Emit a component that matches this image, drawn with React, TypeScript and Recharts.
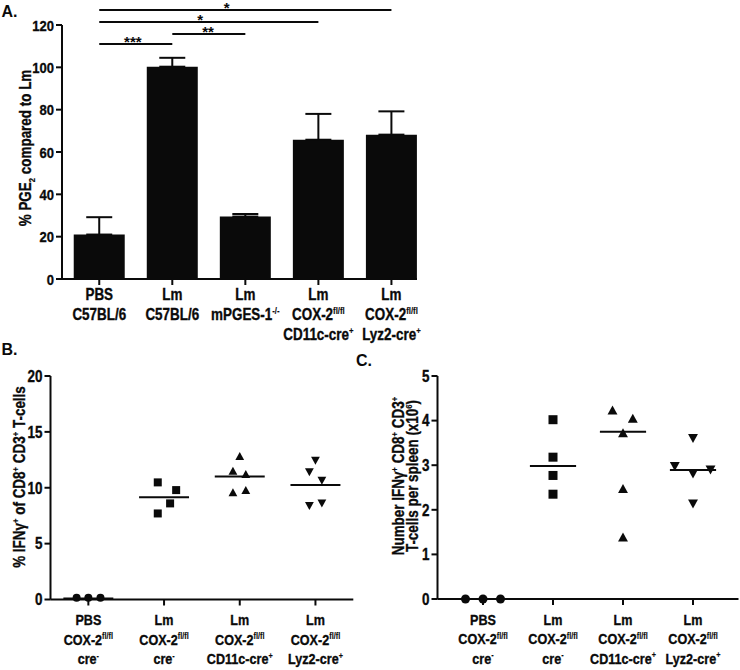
import React from 'react';
import { BarChart, Bar, ErrorBar, ScatterChart, Scatter, XAxis, YAxis, ReferenceLine } from 'recharts';

const FONT = "'Liberation Sans', Arial, sans-serif";
const SX = 0.84; // horizontal squeeze, mimics a condensed bold face
const INK = '#0a0a0a';

// ---- panel A: PGE2 ----
const pgeGroups = [
  'PBS\nC57BL/6',
  'Lm\nC57BL/6',
  'Lm\nmPGES-1^{-/-}',
  'Lm\nCOX-2^{fl/fl}\nCD11c-cre^{+}',
  'Lm\nCOX-2^{fl/fl}\nLyz2-cre^{+}',
];
const pgeMean = [21, 100.3, 29.5, 65.8, 68.2];
const pgeErr = [8.2, 4.2, 1.2, 12.2, 11];
const pgeTicks = [0, 20, 40, 60, 80, 100, 120];

// significance bars (group index from -> to, height, stars)
const sigFrom = [0, 1, 0, 0];
const sigTo = [1, 2, 3, 4];
const sigAt = [111, 115.7, 121.4, 127.1];
const sigStars = ['***', '**', '*', '*'];
const sigStarPos = [0.46, 0.49, 0.46, 0.436];

// ---- panels B / C ----
const cellGroups = [
  'PBS\nCOX-2^{fl/fl}\ncre^{-}',
  'Lm\nCOX-2^{fl/fl}\ncre^{-}',
  'Lm\nCOX-2^{fl/fl}\nCD11c-cre^{+}',
  'Lm\nCOX-2^{fl/fl}\nLyz2-cre^{+}',
];
const markers = ['circle', 'square', 'up', 'down'];

// B: % IFNg+ of CD8+ CD3+ (x jitter within group, value)
const pctJitter = [
  [-0.155, 0, 0.16],
  [-0.083, 0.16, 0.08, -0.083],
  [0, -0.09, 0.08, -0.09, 0.08],
  [0, -0.08, 0.085, -0.08, 0.085],
];
const pctValues = [
  [0.15, 0.15, 0.15],
  [10.48, 9.79, 8.6, 7.7],
  [12.84, 11.52, 11.23, 9.59, 9.8],
  [12.42, 11.38, 10.63, 8.36, 8.6],
];
const pctLines = [0.08, 9.14, 11.0, 10.24];
const pctTicks = [0, 5, 10, 15, 20];

// C: number per spleen (x10^6)
const numJitter = [
  [-0.25, 0, 0.25],
  [0, 0, 0, 0],
  [-0.15, 0.14, 0, 0, 0],
  [0, -0.26, 0, 0.25, 0],
];
const numValues = [
  [0, 0, 0],
  [4.02, 3.18, 2.77, 2.35],
  [4.24, 4.05, 3.73, 2.48, 1.39],
  [3.6, 2.97, 2.8, 2.89, 2.13],
];
const numLines = [0, 2.98, 3.75, 2.89];
const numTicks = [0, 1, 2, 3, 4, 5];

const LINE_HALF = 0.33;

const axisStyle = { stroke: INK, strokeWidth: 2 };

// tiny markup: ^{..} superscript, _{..} subscript
const parseRich = (s: string) => {
  const parts: { t: string; k: string }[] = [];
  const re = /([\^_])\{([^}]*)\}/g;
  let last = 0;
  let m: RegExpExecArray | null;
  while ((m = re.exec(s))) {
    if (m.index > last) parts.push({ t: s.slice(last, m.index), k: 'n' });
    parts.push({ t: m[2], k: m[1] === '^' ? 'sup' : 'sub' });
    last = re.lastIndex;
  }
  if (last < s.length) parts.push({ t: s.slice(last), k: 'n' });
  return parts;
};

const richSpans = (text: string, size: number) => {
  let shift = 0;
  return parseRich(text).map((p, i) => {
    const target = p.k === 'sup' ? -0.38 * size : p.k === 'sub' ? 0.22 * size : 0;
    const dy = target - shift;
    shift = target;
    return (
      <tspan key={i} dy={dy} fontSize={p.k === 'n' ? size : size * 0.58} strokeWidth={p.k === 'n' ? 0.35 : 0.15}>
        {p.t}
      </tspan>
    );
  });
};

// bold text squeezed horizontally around its anchor point
const Cond = ({ x, y, rotate = 0, anchor = 'middle', size, dy, children }: any) => (
  <text
    transform={`translate(${x},${y}) rotate(${rotate}) scale(${SX},1)`}
    x={0}
    y={0}
    dy={dy}
    textAnchor={anchor}
    fontFamily={FONT}
    fontWeight="bold"
    fontSize={size}
    fill={INK}
    stroke={INK}
    strokeWidth={0.35}
    style={{ fontVariantLigatures: 'none' }}
  >
    {children}
  </text>
);

const NumTick = (p: any) => (
  <Cond x={p.x} y={p.y} dy="0.36em" anchor="end" size={p.size}>
    {p.payload.value}
  </Cond>
);

const GroupTick = (p: any) => {
  const label: string = p.labels[Math.round(p.payload.value)] || '';
  return (
    <g>
      {label.split('\n').map((line, i) => (
        <Cond key={i} x={p.x} y={p.y + p.first + i * p.step} size={p.size}>
          {richSpans(line, p.size)}
        </Cond>
      ))}
    </g>
  );
};

const YTitle = (p: any) => (
  <g>
    {p.lines.map((line: string, i: number) => (
      <Cond key={i} x={p.x + i * p.step} y={p.cy} rotate={-90} size={p.size}>
        {richSpans(line, p.size)}
      </Cond>
    ))}
  </g>
);

const Marker = ({ cx, cy, kind, s }: any) => {
  const h = s / 2;
  if (kind === 'circle') return <circle cx={cx} cy={cy} r={h} fill={INK} />;
  if (kind === 'square') return <rect x={cx - h} y={cy - h} width={s} height={s} fill={INK} />;
  if (kind === 'up')
    return <polygon points={`${cx},${cy - h} ${cx + h * 1.1},${cy + h} ${cx - h * 1.1},${cy + h}`} fill={INK} />;
  return <polygon points={`${cx - h * 1.1},${cy - h} ${cx + h * 1.1},${cy - h} ${cx},${cy + h}`} fill={INK} />;
};

const pgeData = pgeMean.map((v, i) => ({ x: i, value: v, err: [0, pgeErr[i]] }));

const PanelA = () => (
  <BarChart width={430} height={345} data={pgeData} margin={{ top: 25, right: 13, bottom: 0, left: 0 }}>
    <XAxis
      type="number"
      dataKey="x"
      domain={[-0.51, 4.35]}
      ticks={[0, 1, 2, 3, 4]}
      interval={0}
      height={66}
      tickSize={6}
      axisLine={axisStyle}
      tickLine={axisStyle}
      tick={<GroupTick labels={pgeGroups} first={13} step={20} size={16} />}
    />
    <YAxis
      domain={[0, 120]}
      ticks={pgeTicks}
      interval={0}
      width={62}
      tickSize={6}
      axisLine={axisStyle}
      tickLine={axisStyle}
      tick={<NumTick size={15.5} />}
      label={<YTitle lines={['% PGE_{2} compared to Lm']} x={22.7} cy={148} step={0} size={16} />}
    />
    <Bar dataKey="value" fill={INK} barSize={51} isAnimationActive={false}>
      <ErrorBar dataKey="err" direction="y" width={13} stroke={INK} strokeWidth={2} isAnimationActive={false} />
    </Bar>
    {sigAt.map((h, i) => (
      <ReferenceLine
        key={i}
        segment={[
          { x: sigFrom[i], y: h },
          { x: sigTo[i], y: h },
        ]}
        ifOverflow="visible"
        stroke={INK}
        strokeWidth={2}
        label={(lp: any) => {
          const vb = lp.viewBox || {};
          return (
            <text
              x={vb.x + vb.width * sigStarPos[i]}
              y={vb.y + 3}
              textAnchor="middle"
              fontFamily={FONT}
              fontWeight="bold"
              fontSize={15}
              fill={INK}
            >
              {sigStars[i]}
            </text>
          );
        }}
      />
    ))}
  </BarChart>
);

const ScatterPanel = ({ jitter, values, lines, ticks, yMax, xDomain, yTitle, titleX, titleStep, titleCy, yWidth, right, size }: any) => (
  <ScatterChart width={370} height={320} margin={{ top: 26, right, bottom: 0, left: 0 }}>
    <XAxis
      type="number"
      dataKey="x"
      domain={xDomain}
      ticks={[0, 1, 2, 3]}
      interval={0}
      allowDataOverflow
      height={320 - 26 - (yMax === 20 ? 223.5 : 223)}
      tickSize={6}
      axisLine={axisStyle}
      tickLine={axisStyle}
      tick={<GroupTick labels={cellGroups} first={17.5} step={19.7} size={15} />}
    />
    <YAxis
      type="number"
      dataKey="y"
      domain={[0, yMax]}
      ticks={ticks}
      interval={0}
      width={yWidth}
      tickSize={6}
      axisLine={axisStyle}
      tickLine={axisStyle}
      tick={<NumTick size={16} />}
      label={<YTitle lines={yTitle} x={titleX} cy={titleCy} step={titleStep} size={16} />}
    />
    {values.map((vals: number[], g: number) => (
      <Scatter
        key={g}
        data={vals.map((v, k) => ({ x: g + jitter[g][k], y: v }))}
        isAnimationActive={false}
        shape={(p: any) => <Marker cx={p.cx} cy={p.cy} kind={markers[g]} s={size} />}
      />
    ))}
    {lines.map((m: number, g: number) => (
      <ReferenceLine
        key={'m' + g}
        segment={[
          { x: g - LINE_HALF, y: m },
          { x: g + LINE_HALF, y: m },
        ]}
        stroke={INK}
        strokeWidth={2}
        ifOverflow="visible"
      />
    ))}
  </ScatterChart>
);

const letter = { fontFamily: FONT, fontWeight: 'bold' as const, fontSize: 16, fill: INK };

export default function App() {
  return (
    <div style={{ position: 'absolute', left: 0, top: 0, width: 740, height: 670, background: '#fff' }}>
      <div style={{ position: 'absolute', left: 0, top: 0 }}>
        <PanelA />
      </div>
      <div style={{ position: 'absolute', left: 0, top: 350 }}>
        <ScatterPanel
          jitter={pctJitter}
          values={pctValues}
          lines={pctLines}
          ticks={pctTicks}
          yMax={20}
          xDomain={[-0.5, 3.5]}
          yTitle={['% IFNγ^{+} of CD8^{+} CD3^{+} T-cells']}
          titleX={26.7}
          titleStep={0}
          titleCy={127}
          yWidth={50.5}
          right={16.7}
          size={8}
        />
      </div>
      <div style={{ position: 'absolute', left: 370, top: 350 }}>
        <ScatterPanel
          jitter={numJitter}
          values={numValues}
          lines={numLines}
          ticks={numTicks}
          yMax={5}
          xDomain={[-0.65, 3.65]}
          yTitle={['Number IFNγ^{+} CD8^{+} CD3^{+}', 'T-cells per spleen (x10^{6})']}
          titleX={22.7}
          titleStep={14.3}
          titleCy={126}
          yWidth={67.5}
          right={1.5}
          size={9}
        />
      </div>
      <svg width={740} height={670} style={{ position: 'absolute', left: 0, top: 0, pointerEvents: 'none' }}>
        <text x={1.5} y={16.7} {...letter}>A.</text>
        <text x={1.5} y={355} {...letter}>B.</text>
        <text x={356} y={366} {...letter}>C.</text>
      </svg>
    </div>
  );
}
